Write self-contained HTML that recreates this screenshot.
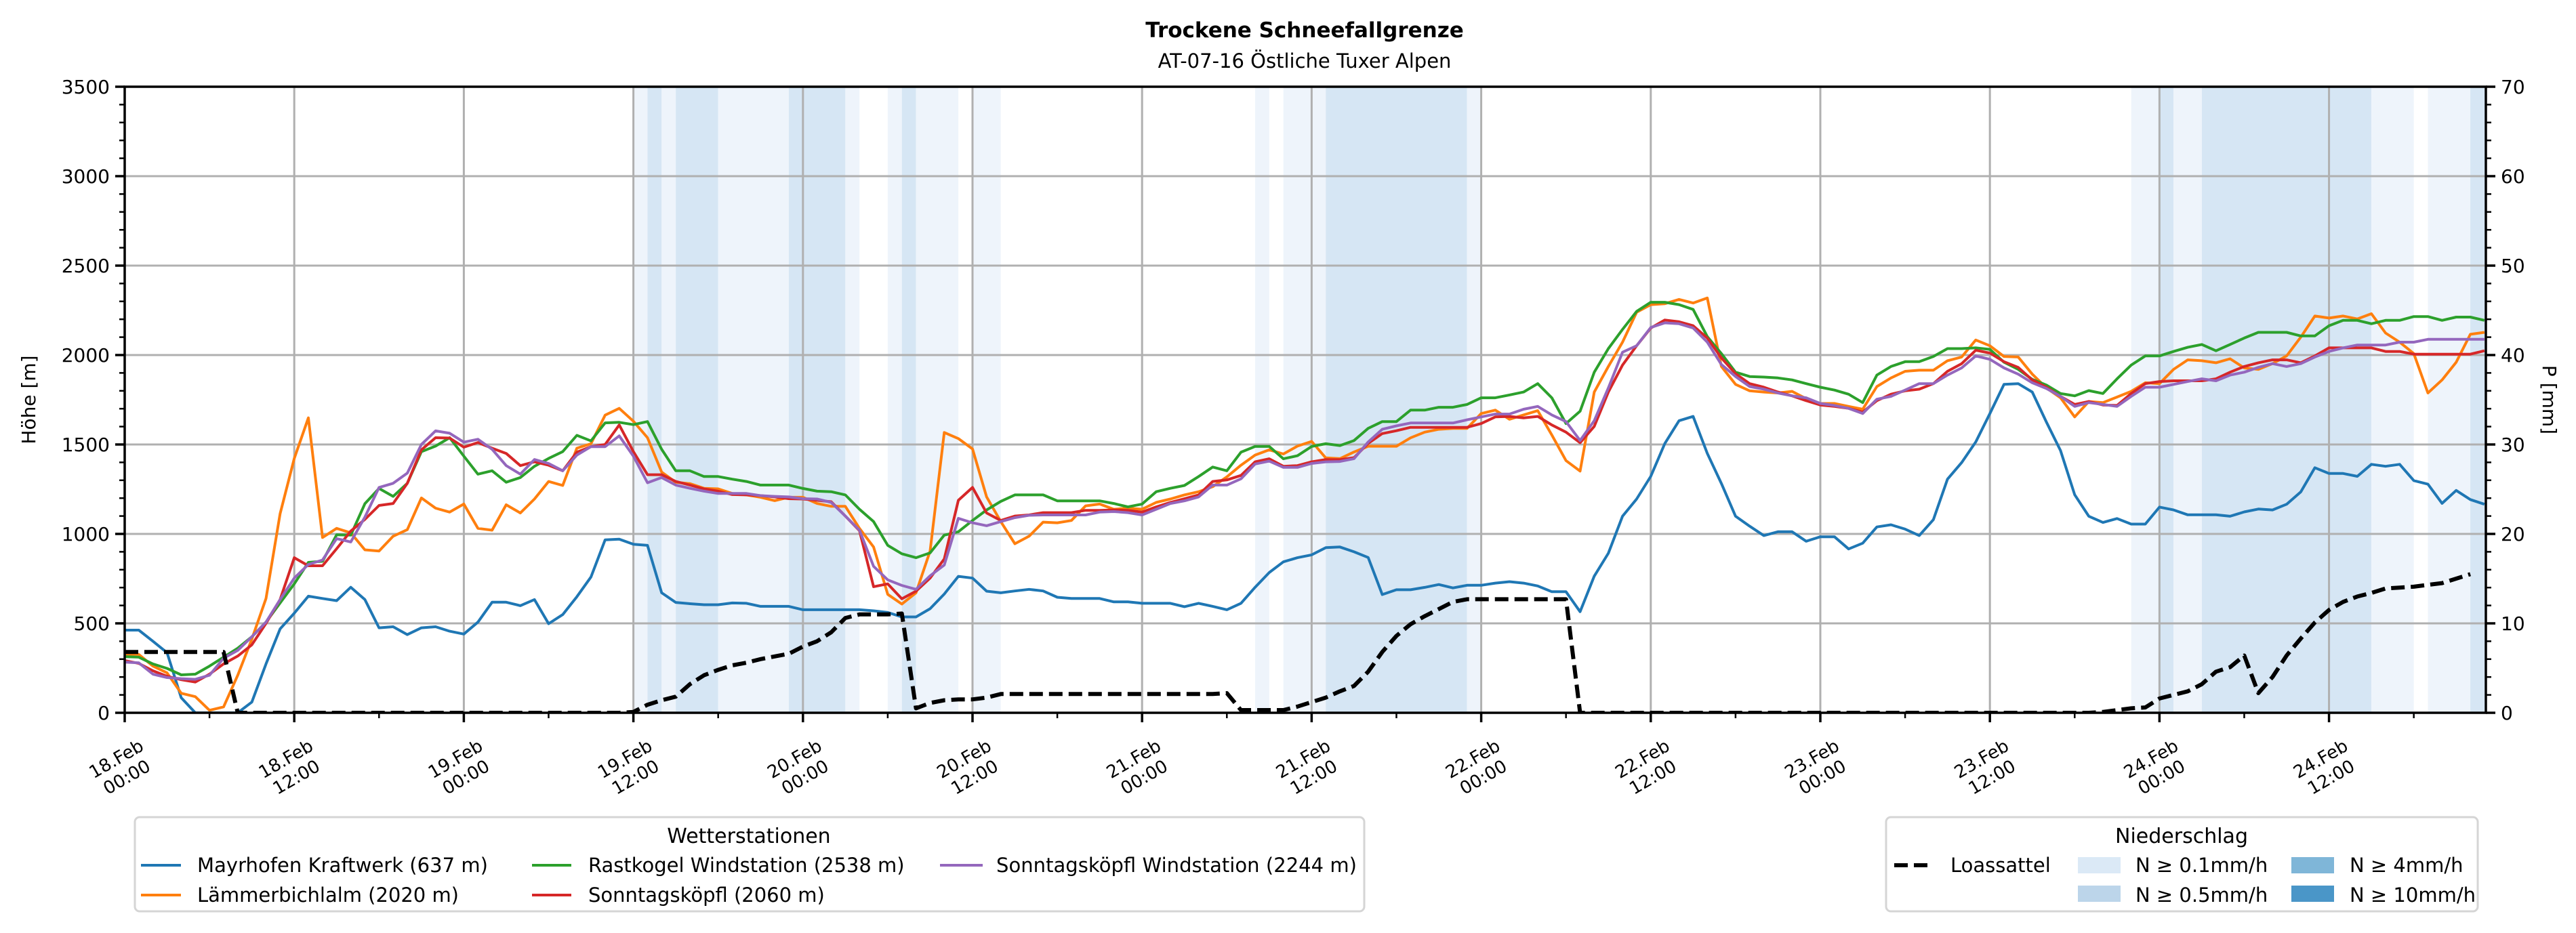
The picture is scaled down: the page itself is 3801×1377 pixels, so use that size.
<!DOCTYPE html>
<html><head><meta charset="utf-8"><title>Trockene Schneefallgrenze</title>
<style>
html,body{margin:0;padding:0;background:#fff;}
svg{display:block;font-family:"DejaVu Sans","Liberation Sans",sans-serif;}
</style></head>
<body>
<svg id="chart" xmlns="http://www.w3.org/2000/svg" width="3801" height="1377" viewBox="0 0 3801 1377">
<rect x="0" y="0" width="3801" height="1377" fill="#fff"/>
<text x="1925" y="55" text-anchor="middle" font-size="31" font-weight="bold">Trockene Schneefallgrenze</text>
<text x="1925" y="100" text-anchor="middle" font-size="29">AT-07-16 Östliche Tuxer Alpen</text>
<defs><clipPath id="plotclip"><rect x="184" y="128" width="3484" height="924"/></clipPath></defs>
<g id="bands" clip-path="url(#plotclip)"></g>
<g id="grid"></g>
<g id="series" clip-path="url(#plotclip)"></g>
<g id="axes"></g>
<text transform="translate(52,590) rotate(-90)" text-anchor="middle" font-size="28">Höhe [m]</text>
<text transform="translate(3752,590) rotate(90)" text-anchor="middle" font-size="28">P [mm]</text>

<g>
<rect x="199" y="1206" width="1814" height="139" rx="7" fill="#fff" stroke="#d5d5d5" stroke-width="3"/>
<text x="1105" y="1244" text-anchor="middle" font-size="30">Wetterstationen</text>
<g><line x1="208" y1="1277" x2="267" y2="1277" stroke="#1f77b4" stroke-width="4"/><text x="291" y="1287" font-size="29" textLength="429">Mayrhofen Kraftwerk (637 m)</text></g>
<g><line x1="208" y1="1321" x2="267" y2="1321" stroke="#ff7f0e" stroke-width="4"/><text x="291" y="1331" font-size="29" textLength="386">Lämmerbichlalm (2020 m)</text></g>
<g><line x1="785" y1="1277" x2="843" y2="1277" stroke="#2ca02c" stroke-width="4"/><text x="868" y="1287" font-size="29">Rastkogel Windstation (2538 m)</text></g>
<g><line x1="785" y1="1321" x2="843" y2="1321" stroke="#d62728" stroke-width="4"/><text x="868" y="1331" font-size="29">Sonntagsköpfl (2060 m)</text></g>
<g><line x1="1387" y1="1277" x2="1450" y2="1277" stroke="#9467bd" stroke-width="4"/><text x="1470" y="1287" font-size="29" textLength="532">Sonntagsköpfl Windstation (2244 m)</text></g>
</g>

<g>
<rect x="2783" y="1206" width="873" height="139" rx="7" fill="#fff" stroke="#d5d5d5" stroke-width="3"/>
<text x="3219" y="1244" text-anchor="middle" font-size="30">Niederschlag</text>
<g><line x1="2795" y1="1277" x2="2853" y2="1277" stroke="#000" stroke-width="6" stroke-dasharray="20,9"/><text x="2878" y="1287" font-size="29">Loassattel</text></g>
<g><rect x="3066" y="1265" width="63" height="24" fill="#dbe9f6"/><text x="3151" y="1287" font-size="29">N ≥ 0.1mm/h</text></g>
<g><rect x="3066" y="1307" width="63" height="24" fill="#bcd5ea"/><text x="3151" y="1331" font-size="29">N ≥ 0.5mm/h</text></g>
<g><rect x="3381" y="1265" width="63" height="24" fill="#7fb6d8"/><text x="3467" y="1287" font-size="29">N ≥ 4mm/h</text></g>
<g><rect x="3381" y="1307" width="63" height="24" fill="#4a96c8"/><text x="3467" y="1331" font-size="29">N ≥ 10mm/h</text></g>
</g>
</svg>
<script>
const xTickHours = [0,12,24,36,48,60,72,84,96,108,120,132,144,156];
const xTickDates = ["18.Feb","18.Feb","19.Feb","19.Feb","20.Feb","20.Feb","21.Feb","21.Feb","22.Feb","22.Feb","23.Feb","23.Feb","24.Feb","24.Feb"];
const xTickTimes = ["00:00","12:00","00:00","12:00","00:00","12:00","00:00","12:00","00:00","12:00","00:00","12:00","00:00","12:00"];
const yTicks = [0,500,1000,1500,2000,2500,3000,3500];
const y2Ticks = [0,10,20,30,40,50,60,70];

const bandStart = [36,37,38,39,42,47,51,54,55,56,60,80,82,85,95,142,144,145,147,159,163,166];
const bandEnd   = [37,38,39,42,47,51,52,55,56,59,62,81,85,95,96,144,145,147,159,162,166,167.2];
const bandLevel = [1,2,1,2,1,2,1,1,2,1,1,1,1,2,1,1,2,1,2,1,1,2];

const mayrhofen = [462,462,400,336,84,0,0,0,0,60,273,469,557,652,639,627,702,633,475,481,437,475,481,456,440,507,618,618,599,633,498,549,649,759,967,971,942,936,671,617,610,604,604,614,
612,595,595,595,576,576,576,576,576,570,561,536,536,582,664,763,753,680,671,681,690,681,646,639,639,639,620,620,612,612,612,593,612,595,576,612,702,784,844,867,883,923,
927,900,868,661,688,688,701,717,698,713,713,725,733,725,709,677,677,565,764,892,1099,1195,1322,1506,1633,1657,1450,1282,1099,1043,991,1012,1012,959,984,984,916,948,1039,1051,1027,991,1080,
1306,1399,1514,1673,1836,1840,1793,1625,1466,1219,1099,1064,1086,1055,1055,1150,1134,1107,1107,1107,1099,1123,1139,1134,1166,1235,1370,1338,1338,1322,1389,1378,1389,1298,1278,1171,1243,1192,1166];
const laemmerbichl = [326,326,261,223,109,90,14,33,210,412,639,1113,1422,1649,980,1031,1006,911,904,987,1024,1201,1144,1122,1167,1031,1021,1163,1117,1195,1293,1271,1479,1504,1664,1702,1630,1538,1346,1289,1281,1255,1252,1226,
1218,1205,1186,1205,1205,1170,1154,1154,1031,927,662,608,671,904,1567,1533,1475,1207,1069,945,987,1066,1062,1075,1157,1167,1138,1144,1138,1176,1195,1218,1236,1264,1319,1384,1441,1470,1447,1491,1517,1425,
1421,1458,1490,1490,1490,1537,1569,1585,1590,1590,1673,1692,1641,1665,1689,1553,1410,1351,1793,1936,2072,2239,2282,2287,2311,2291,2319,1936,1836,1800,1793,1788,1797,1756,1729,1729,1713,1697,1824,1872,1909,1915,1915,
1968,1989,2084,2052,1992,1989,1893,1816,1761,1654,1740,1734,1765,1797,1845,1840,1920,1973,1968,1957,1979,1928,1920,1952,1995,2100,2218,2207,2218,2202,2231,2123,2072,2008,1788,1861,1960,2116,2127];
const rastkogel = [314,311,273,248,212,216,261,311,361,425,507,614,721,841,847,995,993,1169,1254,1210,1283,1460,1491,1538,1435,1334,1353,1289,1315,1378,1422,1460,1551,1520,1621,1624,1611,1628,1473,1353,1353,1321,1321,1306,
1293,1273,1273,1273,1254,1239,1236,1218,1138,1069,936,889,867,894,993,1012,1075,1134,1182,1218,1218,1218,1185,1185,1185,1185,1170,1151,1167,1236,1255,1271,1321,1374,1353,1457,1489,1489,1420,1437,1489,1504,
1494,1522,1590,1628,1628,1692,1692,1708,1708,1724,1761,1761,1777,1793,1840,1761,1617,1686,1904,2036,2143,2244,2295,2295,2282,2255,2103,2008,1904,1880,1877,1872,1861,1840,1820,1804,1781,1734,1888,1936,1963,1963,1992,
2036,2036,2040,2032,1960,1920,1864,1832,1785,1772,1801,1785,1867,1944,1995,1995,2020,2043,2059,2024,2059,2095,2127,2127,2127,2107,2107,2164,2194,2194,2175,2194,2194,2215,2215,2194,2212,2212,2194];
const sonntagskoepfl = [292,276,235,204,185,172,216,273,317,380,500,633,867,822,822,917,1016,1081,1159,1170,1283,1470,1538,1536,1485,1511,1479,1450,1382,1403,1384,1353,1457,1488,1500,1609,1460,1331,1331,1293,1273,1252,1239,1220,
1218,1214,1207,1197,1195,1188,1180,1100,1018,705,721,637,680,753,860,1188,1260,1117,1075,1100,1106,1119,1119,1119,1132,1132,1134,1132,1122,1151,1176,1197,1218,1293,1302,1327,1403,1420,1378,1382,1403,1416,
1415,1426,1506,1561,1577,1596,1596,1596,1596,1596,1617,1654,1657,1649,1657,1609,1569,1510,1601,1793,1944,2052,2151,2196,2186,2164,2095,1984,1896,1840,1820,1793,1772,1745,1721,1713,1702,1681,1745,1781,1800,1809,1840,
1909,1952,2027,2011,1963,1931,1861,1820,1769,1724,1740,1721,1718,1785,1840,1852,1856,1856,1856,1867,1904,1936,1957,1973,1973,1957,1995,2040,2040,2040,2040,2020,2020,2005,2005,2005,2005,2005,2024];
const sonntagsWind = [283,279,216,197,191,187,210,305,349,425,507,633,753,829,854,974,955,1094,1260,1283,1340,1500,1576,1563,1513,1529,1473,1382,1334,1416,1394,1353,1441,1488,1488,1548,1435,1286,1315,1273,1255,1239,1226,1226,
1226,1214,1210,1207,1197,1195,1176,1100,1021,819,743,712,690,766,826,1087,1062,1046,1069,1091,1104,1106,1106,1106,1106,1122,1125,1119,1106,1138,1170,1185,1207,1273,1273,1308,1391,1407,1372,1372,1394,1403,
1405,1421,1514,1585,1604,1620,1620,1620,1620,1638,1654,1670,1670,1697,1713,1665,1628,1522,1633,1816,2016,2052,2154,2180,2175,2151,2072,1947,1880,1824,1809,1788,1772,1761,1729,1718,1702,1673,1753,1769,1804,1840,1840,
1888,1928,1995,1976,1928,1893,1845,1813,1769,1713,1734,1724,1713,1769,1820,1820,1836,1852,1867,1856,1888,1904,1931,1952,1936,1952,1989,2020,2040,2056,2056,2056,2072,2072,2088,2088,2088,2088,2088];
const loassattelMm = [6.8,6.8,6.8,6.8,6.8,6.8,6.8,6.8,0,0,0,0,0,0,0,0,0,0,0,0,0,0,0,0,0,0,0,0,0,0,0,0,0,0,0,0,0.1,0.9,1.4,1.8,3.2,4.2,4.8,5.3,
5.6,6.0,6.3,6.6,7.4,8.0,9.0,10.6,11.0,11.0,11.0,11.1,0.5,1.1,1.4,1.5,1.5,1.7,2.1,2.1,2.1,2.1,2.1,2.1,2.1,2.1,2.1,2.1,2.1,2.1,2.1,2.1,2.1,2.1,2.2,0.3,0.3,0.3,0.3,0.7,1.2,
1.7,2.4,3.0,4.6,6.8,8.6,9.9,10.8,11.6,12.4,12.7,12.7,12.7,12.7,12.7,12.7,12.7,12.7,0,0,0,0,0,0,0,0,0,0,0,0,0,0,0,0,0,0,0,0,0,0,0,0,0,
0,0,0,0,0,0,0,0,0,0,0,0,0.1,0.3,0.5,0.6,1.6,2.0,2.4,3.2,4.6,5.1,6.4,2.2,4.0,6.4,8.3,10.1,11.5,12.4,13.0,13.4,13.9,14.0,14.1,14.3,14.5,15.0,15.5];

const NS = "http://www.w3.org/2000/svg";
const L = 184, R = 3668, T = 128, B = 1052, HMAX = 167.1;
function xS(h){ return L + h*(R-L)/HMAX; }
function yS(v){ return B - v*(B-T)/3500; }
function yP(mm){ return B - mm*(B-T)/70; }
function mk(tag, attrs, parent){ const e=document.createElementNS(NS,tag); for(const k in attrs) e.setAttribute(k,attrs[k]); parent.appendChild(e); return e; }

const bandsG = document.getElementById('bands');
const bandColors = {1:"#eef4fb",2:"#d6e6f4"};
for(let i=0;i<bandStart.length;i++){
  const r = mk('rect',{x:xS(bandStart[i]),y:T,width:xS(bandEnd[i])-xS(bandStart[i]),height:B-T,fill:bandColors[bandLevel[i]]},bandsG);
  
  
}

const gridG = document.getElementById('grid');
for(const h of xTickHours){ const g=mk('line',{x1:xS(h),y1:T,x2:xS(h),y2:B,stroke:"#b0b0b0","stroke-width":3},gridG);
  
   }
for(const v of yTicks){ const g=mk('line',{x1:L,y1:yS(v),x2:R,y2:yS(v),stroke:"#b0b0b0","stroke-width":3},gridG);
  
   }

const seriesG = document.getElementById('series');
function drawLine(vals, color, name, scale, width, dash){
  let d="";
  for(let i=0;i<vals.length;i++){ d += (i?"L":"M") + xS(i).toFixed(1) + "," + scale(vals[i]).toFixed(1); }
  const p = mk('path',{d:d,fill:"none",stroke:color,"stroke-width":width,"stroke-linejoin":"round"},seriesG);
  if(dash) p.setAttribute('stroke-dasharray',dash);
  
  
}
drawLine(mayrhofen,"#1f77b4","line-mayrhofen",yS,4);
drawLine(laemmerbichl,"#ff7f0e","line-laemmerbichlalm",yS,4);
drawLine(rastkogel,"#2ca02c","line-rastkogel",yS,4);
drawLine(sonntagskoepfl,"#d62728","line-sonntagskoepfl",yS,4);
drawLine(sonntagsWind,"#9467bd","line-sonntagskoepfl-wind",yS,4);
drawLine(loassattelMm,"#000","line-loassattel",yP,6,"20,9");

const axG = document.getElementById('axes');
const frame = mk('rect',{x:L,y:T,width:R-L,height:B-T,fill:"none",stroke:"#000","stroke-width":3.5},axG);


for(let v=0; v<=3500; v+=100){
  const major = (v%500===0);
  const t = mk('line',{x1:L-(major?14:8),y1:yS(v),x2:L,y2:yS(v),stroke:"#000","stroke-width":major?3.5:2.5},axG);
  
  
}
for(const v of yTicks){
  const tx = mk('text',{x:L-22,y:yS(v)+10,"text-anchor":"end","font-size":28},axG);
  tx.textContent = String(v);
  
  
}
for(let m=0; m<=70; m+=2){
  const major = (m%10===0);
  const t = mk('line',{x1:R,y1:yP(m),x2:R+(major?14:8),y2:yP(m),stroke:"#000","stroke-width":major?3.5:2.5},axG);
  
  
}
for(const m of y2Ticks){
  const tx = mk('text',{x:R+22,y:yP(m)+10,"text-anchor":"start","font-size":28},axG);
  tx.textContent = String(m);
  
  
}
for(let h=0; h<=HMAX; h+=6){
  const major = (h%12===0);
  const t = mk('line',{x1:xS(h),y1:B,x2:xS(h),y2:B+(major?14:8),stroke:"#000","stroke-width":major?3.5:2.5},axG);
  
  
}
for(let i=0;i<xTickHours.length;i++){
  const cx = xS(xTickHours[i]) - 5, cy = 1133;
  const tx = mk('text',{transform:"translate("+cx+","+cy+") rotate(-30)","text-anchor":"middle","font-size":26},axG);
  
  
  const a = mk('tspan',{x:0,y:-6},tx); a.textContent = xTickDates[i];
  const b = mk('tspan',{x:0,y:25},tx); b.textContent = xTickTimes[i];
}
</script>
</body></html>
